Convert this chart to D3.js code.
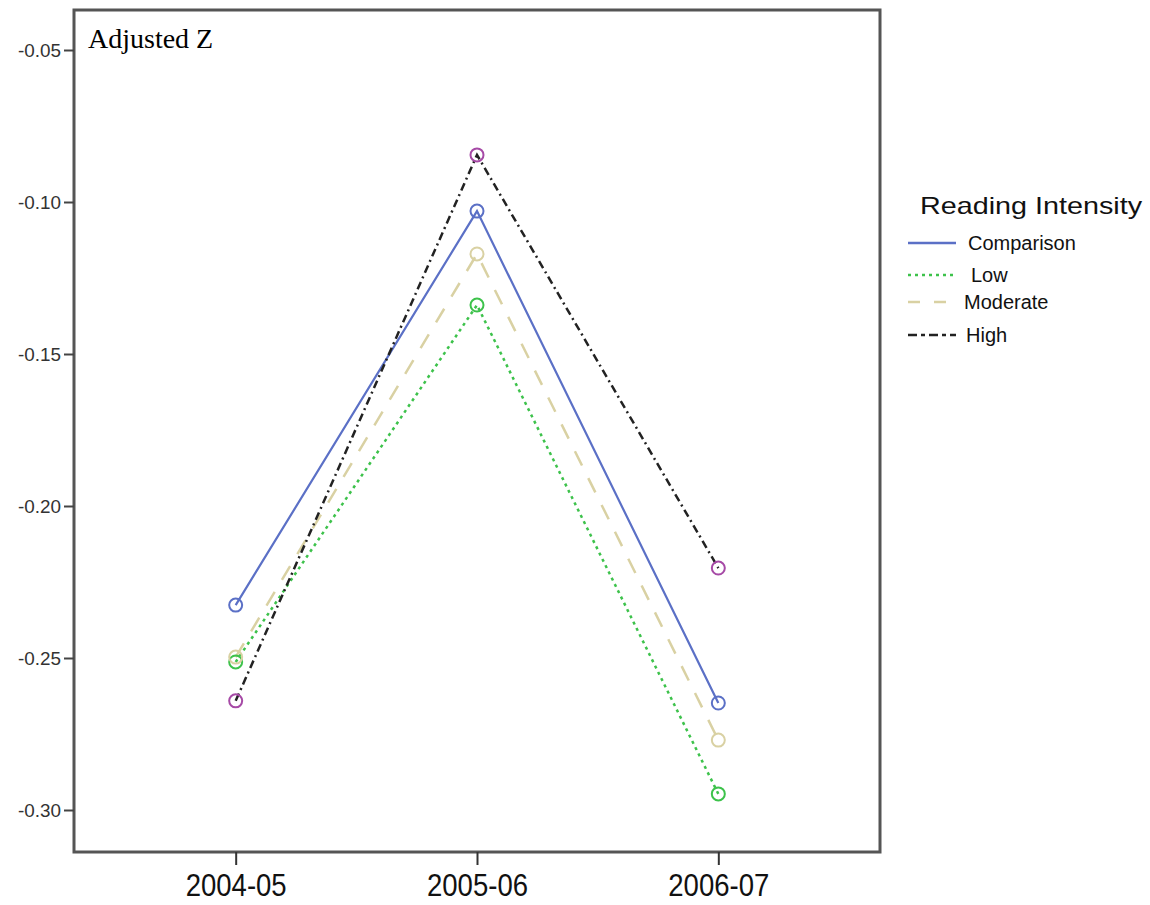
<!DOCTYPE html>
<html><head><meta charset="utf-8">
<script src="https://cdn.jsdelivr.net/npm/d3@7"></script>
<style>body{margin:0;background:#fff}</style>
</head><body>
<svg id="c" width="1150" height="905"></svg>
<script>
const categories = ["2004-05", "2005-06", "2006-07"];
const seriesNames = ["Comparison", "Low", "Moderate", "High"];
const comparison = [-0.2326, -0.1030, -0.2648];
const low = [-0.2513, -0.1339, -0.2947];
const moderate = [-0.2497, -0.1171, -0.2770];
const high = [-0.2641, -0.0845, -0.2204];
const yTicks = [-0.05, -0.10, -0.15, -0.20, -0.25, -0.30];
const legendTitle = "Reading Intensity";
const panelLabel = "Adjusted Z";

const styles = {
  Comparison: {line: "#5b70c6", marker: "#5b70c6", dash: null, width: 2.2},
  Low: {line: "#3dc24b", marker: "#3dc24b", dash: "3,4", width: 2.5},
  Moderate: {line: "#d9d1a3", marker: "#d9d1a3", dash: "16,14", width: 2.5},
  High: {line: "#222", marker: "#a64aa6", dash: "8,4,2,4", width: 2.5}
};
const series = [
  {name: "Comparison", values: comparison},
  {name: "Low", values: low},
  {name: "Moderate", values: moderate},
  {name: "High", values: high}
];

const L = 74, T = 10, R = 880, B = 852;
const svg = d3.select("#c");
const x = d3.scalePoint().domain(categories).range([L, R]).padding(0.67);
const y = d3.scaleLinear().domain([-0.05, -0.30]).range([50, 810]);

// frame
svg.append("rect").attr("x", L).attr("y", T).attr("width", R - L).attr("height", B - T)
  .attr("fill", "none").attr("stroke", "#555").attr("stroke-width", 3);

// y axis
const ya = svg.append("g").attr("transform", `translate(${L},0)`)
  .call(d3.axisLeft(y).tickValues(yTicks).tickSize(10).tickPadding(3)
    .tickFormat(d => d3.format(".2f")(d).replace("\u2212", "-")));
ya.select(".domain").remove();
ya.selectAll("line").attr("stroke", "#444").attr("stroke-width", 2);
ya.selectAll("text").attr("font-family", "Liberation Sans, Arial, sans-serif")
  .attr("font-size", 19).attr("fill", "#333").attr("dy", "0.36em")
  .attr("textLength", 43).attr("lengthAdjust", "spacingAndGlyphs");

// x axis
const xa = svg.append("g").attr("transform", `translate(0,${B})`)
  .call(d3.axisBottom(x).tickSize(13));
xa.select(".domain").remove();
xa.selectAll("line").attr("stroke", "#333").attr("stroke-width", 2);
xa.selectAll("text").attr("font-family", "Liberation Sans, Arial, sans-serif")
  .attr("font-size", 31).attr("fill", "#111").attr("y", 44).attr("dy", 0)
  .attr("textLength", 101).attr("lengthAdjust", "spacingAndGlyphs");

// panel label
svg.append("text").attr("x", 88).attr("y", 48).text(panelLabel)
  .attr("font-family", "Liberation Serif, Times New Roman, serif").attr("font-size", 28).attr("fill", "#000");

const line = d3.line().x((d, i) => x(categories[i])).y(d => y(d));
series.forEach(s => {
  const st = styles[s.name];
  svg.append("path").datum(s.values).attr("d", line).attr("fill", "none")
    .attr("stroke", st.line).attr("stroke-width", st.width)
    .attr("stroke-dasharray", st.dash);
});
series.forEach(s => {
  const st = styles[s.name];
  svg.selectAll(null).data(s.values).enter().append("circle")
    .attr("cx", (d, i) => x(categories[i])).attr("cy", d => y(d)).attr("r", 6.5)
    .attr("fill", "none").attr("stroke", st.marker).attr("stroke-width", 2);
});

// legend
const lg = svg.append("g");
lg.append("text").attr("x", 920).attr("y", 214).text(legendTitle)
  .attr("font-family", "Liberation Sans, Arial, sans-serif").attr("font-size", 24).attr("fill", "#111")
  .attr("textLength", 222).attr("lengthAdjust", "spacingAndGlyphs");
const ly = [243, 275, 302, 335];
const lx = [968, 971, 964, 966];
seriesNames.forEach((n, i) => {
  const st = styles[n];
  lg.append("line").attr("x1", 908).attr("x2", 956).attr("y1", ly[i]).attr("y2", ly[i])
    .attr("stroke", st.line).attr("stroke-width", 2.5)
    .attr("stroke-dasharray", n === "Moderate" ? "12,14" : n === "High" ? "9,4,4,4" : st.dash);
  lg.append("text").attr("x", lx[i]).attr("y", ly[i] + 7).text(n)
    .attr("font-family", "Liberation Sans, Arial, sans-serif").attr("font-size", 20).attr("fill", "#111");
});
</script>
</body></html>
